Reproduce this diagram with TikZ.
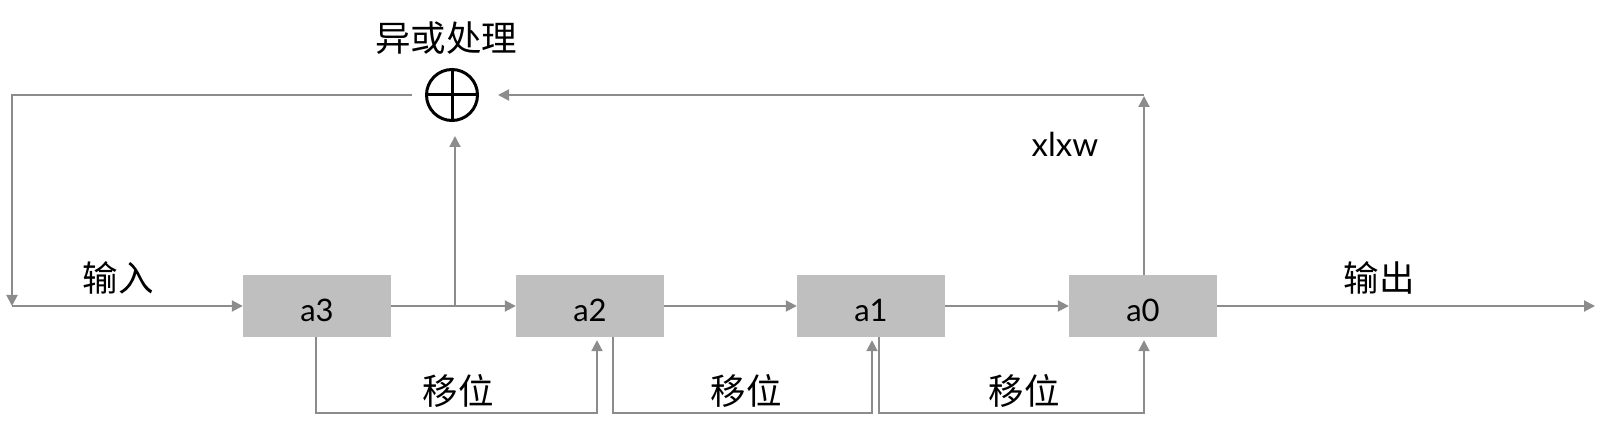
\documentclass[tikz,border=0pt]{standalone}
\usepackage{fontspec}
\setmainfont{Lato}
\newfontfamily\cjk{Noto Sans CJK SC}
\usetikzlibrary{arrows.meta}
\definecolor{linegray}{HTML}{8C8C8C}
\definecolor{boxgray}{HTML}{BFBFBF}
\begin{document}
\begin{tikzpicture}[x=1pt,y=-1pt,
  reg/.style={fill=boxgray, minimum width=148pt, minimum height=62pt, inner sep=0pt,
    text height=32pt, text depth=0pt, font=\fontsize{31}{31}\selectfont},
  conn/.style={draw=linegray, line width=2pt},
  arr/.style={conn, -{Triangle[length=11pt,width=11pt]}},
  lab/.style={font=\cjk\fontsize{35.5}{35.5}\selectfont, inner sep=0pt},
  latlab/.style={font=\fontsize{33}{33}\selectfont, inner sep=0pt}]
\useasboundingbox (0,0) rectangle (1608,435);
% registers
\node[reg] (a3) at (317,306) {a3};
\node[reg] (a2) at (590,306) {a2};
\node[reg] (a1) at (871,306) {a1};
\node[reg] (a0) at (1143,306) {a0};
% xor
\node[circle, draw=black, line width=3pt, minimum size=51pt, inner sep=0pt] (xor) at (452,95) {};
\draw[line width=3pt] (xor.north) -- (xor.south) (xor.west) -- (xor.east);
% coordinates
\coordinate (lt) at (12,95);
\coordinate (lb) at (12,306);
\coordinate (br) at (455,306);
\coordinate (tr) at (1144,95);
\coordinate (out) at (1595,306);
% feedback loop
\draw[arr, shorten <=13pt] (xor.west) -- (lt) -- (lb);
\draw[arr] (lb) -- (a3.west);
\draw[arr] (a3.east) -- (a2.west);
\draw[arr, shorten >=14pt] (br) -- (xor.south -| br);
\draw[arr] (a2.east) -- (a1.west);
\draw[arr] (a1.east) -- (a0.west);
\draw[arr] (a0.east) -- (out);
\draw[arr, shorten >=1pt] ([xshift=1pt]a0.north) -- (tr);
\draw[arr, shorten >=19pt] (tr) -- (xor.east);
% shift paths
\draw[arr, shorten >=3pt] ([xshift=-1pt]a3.south) -- ++(0,76) -| ([xshift=7pt]a2.south);
\draw[arr, shorten >=3pt] ([xshift=23pt]a2.south) -- ++(0,76) -| ([xshift=1pt]a1.south);
\draw[arr, shorten >=3pt] ([xshift=8pt]a1.south) -- ++(0,76) -| ([xshift=1pt]a0.south);
% labels
\node[lab] (lxor) at (446,38) {异或处理};
\node[lab] (lin) at (118,278) {输入};
\node[lab] (lout) at (1379,278) {输出};
\node[lab] (ls1) at (458,391) {移位};
\node[lab] (ls2) at (746,391) {移位};
\node[lab] (ls3) at (1024,391) {移位};
\node[latlab, anchor=base] (lx) at (1065,157) {xlxw};
\end{tikzpicture}
\end{document}
